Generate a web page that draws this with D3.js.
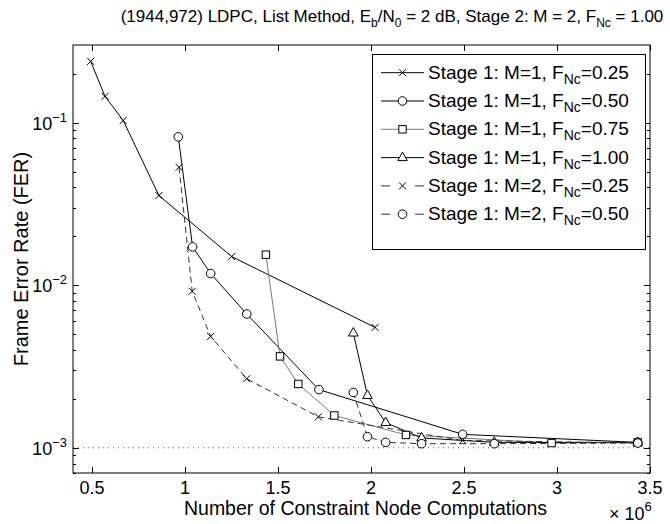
<!DOCTYPE html>
<html>
<head>
<meta charset="utf-8">
<script src="https://cdn.jsdelivr.net/npm/d3@7/dist/d3.min.js"></script>
<style>
  body { margin: 0; background: #fff; }
  text { font-family: "Liberation Sans", Arial, Helvetica, sans-serif; fill: #000; }
</style>
</head>
<body>
<svg id="chart" width="670" height="524"></svg>
<script>
// Constraint node computations are given in units of 10^6.
const xTicks = [0.5, 1, 1.5, 2, 2.5, 3, 3.5];
const yDecades = [1e-3, 1e-2, 1e-1];

// Stage 1: M=1, F_Nc=0.25
const m1f025X = [0.493, 0.570, 0.668, 0.860, 1.251, 2.022];
const m1f025Y = [0.238, 0.145, 0.103, 0.0356, 0.0150, 0.0055];
// Stage 1: M=1, F_Nc=0.50
const m1f050X = [0.964, 1.041, 1.138, 1.332, 1.720, 2.493, 3.434];
const m1f050Y = [0.0817, 0.0172, 0.0118, 0.00665, 0.00228, 0.00121, 0.00108];
// Stage 1: M=1, F_Nc=0.75
const m1f075X = [1.435, 1.511, 1.609, 1.803, 2.188, 2.971, 3.434];
const m1f075Y = [0.0154, 0.00365, 0.00247, 0.00158, 0.00120, 0.00107, 0.00108];
// Stage 1: M=1, F_Nc=1.00
const m1f100X = [1.905, 1.981, 2.079, 2.272, 2.663, 3.434];
const m1f100Y = [0.00508, 0.00210, 0.00143, 0.00115, 0.00108, 0.00108];
// Stage 1: M=2, F_Nc=0.25
const m2f025X = [0.968, 1.039, 1.138, 1.332, 1.717, 2.493, 3.434];
const m2f025Y = [0.0531, 0.00917, 0.00484, 0.00266, 0.00155, 0.00111, 0.00107];
// Stage 1: M=2, F_Nc=0.50
const m2f050X = [1.905, 1.981, 2.079, 2.272, 2.663, 3.434];
const m2f050Y = [0.00219, 0.00117, 0.00108, 0.00106, 0.00106, 0.00107];

const stageM = ["M=1", "M=1", "M=1", "M=1", "M=2", "M=2"];
const fncValues = ["0.25", "0.50", "0.75", "1.00", "0.25", "0.50"];
const markerKinds = ["x", "o", "s", "^", "x", "o"];
const lineDash = [null, null, null, null, "6,4", "6,4"];
const lineColor = ["#000", "#000", "#777", "#000", "#333", "#333"];

const seriesX = [m1f025X, m1f050X, m1f075X, m1f100X, m2f025X, m2f050X];
const seriesY = [m1f025Y, m1f050Y, m1f075Y, m1f100Y, m2f025Y, m2f050Y];
const referenceFER = 1e-3;

const svg = d3.select("#chart");
const W = 670, H = 524;
const plot = { left: 73, right: 650, top: 45, bottom: 473 };

svg.append("rect").attr("width", W).attr("height", H).attr("fill", "#fff");

const x = d3.scaleLinear().domain([0.398, 3.5]).range([plot.left, plot.right]);
const y = d3.scaleLog().domain([7e-4, 0.3]).range([plot.bottom, plot.top]);

const TICK_FONT = 18;
const LABEL_FONT = 19.5;

// Horizontal dotted reference at FER = 10^-3
svg.append("line")
  .attr("x1", plot.left).attr("x2", plot.right)
  .attr("y1", y(referenceFER)).attr("y2", y(referenceFER))
  .attr("stroke", "#555").attr("stroke-width", 1)
  .attr("stroke-dasharray", "1,4");

// Axis box
svg.append("rect")
  .attr("x", plot.left).attr("y", plot.top)
  .attr("width", plot.right - plot.left).attr("height", plot.bottom - plot.top)
  .attr("fill", "none").attr("stroke", "#000").attr("stroke-width", 1);

// Inward ticks on all four sides
const tickG = svg.append("g").attr("stroke", "#000").attr("stroke-width", 1);
xTicks.forEach(t => {
  const px = Math.round(x(t)) + 0.5;
  tickG.append("line").attr("x1", px).attr("x2", px).attr("y1", plot.bottom).attr("y2", plot.bottom - 6);
  tickG.append("line").attr("x1", px).attr("x2", px).attr("y1", plot.top).attr("y2", plot.top + 6);
});
const minorVals = [];
d3.range(-4, 0).forEach(e => {
  d3.range(1, 10).forEach(m => {
    const v = m * Math.pow(10, e);
    const [lo, hi] = y.domain();
    if (v >= lo && v <= hi) minorVals.push({ v, major: m === 1 });
  });
});
minorVals.forEach(d => {
  const py = Math.round(y(d.v)) + 0.5;
  const len = d.major ? 6 : 3;
  tickG.append("line").attr("x1", plot.left).attr("x2", plot.left + len).attr("y1", py).attr("y2", py);
  tickG.append("line").attr("x1", plot.right).attr("x2", plot.right - len).attr("y1", py).attr("y2", py);
});

// X tick labels
svg.append("g").selectAll("text").data(xTicks).join("text")
  .attr("x", d => x(d)).attr("y", 494)
  .attr("text-anchor", "middle").attr("font-size", TICK_FONT)
  .text(d => d3.format("")(d));

// Y tick labels as 10^n
yDecades.forEach(v => {
  const e = Math.round(Math.log10(v));
  const t = svg.append("text")
    .attr("x", 67).attr("y", y(v) + 7)
    .attr("text-anchor", "end").attr("font-size", TICK_FONT);
  t.append("tspan").text("10");
  t.append("tspan").attr("dy", -8).attr("font-size", 13).text("\u2212" + Math.abs(e));
});

// Axis labels
svg.append("text")
  .attr("x", (plot.left + plot.right) / 2 + 4).attr("y", 515)
  .attr("text-anchor", "middle").attr("font-size", LABEL_FONT)
  .text("Number of Constraint Node Computations");

const mult = svg.append("text").attr("x", 609).attr("y", 520).attr("font-size", TICK_FONT);
mult.append("tspan").text("\u00d7 10");
mult.append("tspan").attr("dy", -9).attr("font-size", 13).text("6");

svg.append("text")
  .attr("transform", `translate(28,${(plot.top + plot.bottom) / 2}) rotate(-90)`)
  .attr("text-anchor", "middle").attr("font-size", 20)
  .text("Frame Error Rate (FER)");

// Title with sub-scripts
const title = svg.append("text")
  .attr("x", 392).attr("y", 22)
  .attr("text-anchor", "middle").attr("font-size", 17);
title.append("tspan").text("(1944,972) LDPC, List Method, E");
title.append("tspan").attr("dy", 5).attr("font-size", 12).text("b");
title.append("tspan").attr("dy", -5).text("/N");
title.append("tspan").attr("dy", 5).attr("font-size", 12).text("0");
title.append("tspan").attr("dy", -5).text(" = 2 dB, Stage 2: M = 2, F");
title.append("tspan").attr("dy", 5).attr("font-size", 12).text("Nc");
title.append("tspan").attr("dy", -5).text(" = 1.00");

// Marker drawing
function drawMarker(g, kind, cx, cy, stroke) {
  const s = g.append("g").attr("transform", `translate(${cx},${cy})`)
    .attr("fill", "none").attr("stroke", stroke).attr("stroke-width", 1);
  if (kind === "x") {
    s.append("path").attr("d", "M-3.5,-3.5L3.5,3.5M-3.5,3.5L3.5,-3.5");
  } else if (kind === "o") {
    s.append("circle").attr("r", 4.3).attr("fill", "#fff");
  } else if (kind === "s") {
    s.append("rect").attr("x", -3.7).attr("y", -3.7).attr("width", 7.4).attr("height", 7.4).attr("fill", "#fff");
  } else if (kind === "^") {
    s.append("path").attr("d", "M0,-5.5L4.8,3L-4.8,3Z").attr("fill", "#fff");
  }
}

const line = d3.line().x(d => x(d[0])).y(d => y(d[1]));
const dataG = svg.append("g");
seriesX.forEach((xs, i) => {
  const pts = xs.map((v, j) => [v, seriesY[i][j]]);
  dataG.append("path")
    .attr("d", line(pts))
    .attr("fill", "none").attr("stroke", lineColor[i]).attr("stroke-width", 1)
    .attr("stroke-dasharray", lineDash[i]);
});
seriesX.forEach((xs, i) => {
  xs.forEach((v, j) => drawMarker(dataG, markerKinds[i], x(v), y(seriesY[i][j]), "#000"));
});

// Legend
const leg = { x: 372, y: 54, w: 273, h: 195, row: 28.3, first: 72.7 };
const lg = svg.append("g");
lg.append("rect").attr("x", leg.x + 0.5).attr("y", leg.y + 0.5)
  .attr("width", leg.w).attr("height", leg.h)
  .attr("fill", "#fff").attr("stroke", "#000").attr("stroke-width", 1);
stageM.forEach((m, i) => {
  const cy = leg.first + i * leg.row;
  if (lineDash[i]) {
    [[381, 390], [415, 424]].forEach(([a, b]) =>
      lg.append("line").attr("x1", a).attr("x2", b).attr("y1", cy).attr("y2", cy)
        .attr("stroke", lineColor[i]).attr("stroke-width", 1));
  } else {
    lg.append("line").attr("x1", 381).attr("x2", 424).attr("y1", cy).attr("y2", cy)
      .attr("stroke", lineColor[i]).attr("stroke-width", 1);
  }
  drawMarker(lg, markerKinds[i], 402.5, cy, "#000");
  const t = lg.append("text").attr("x", 428).attr("y", cy + 6).attr("font-size", 19);
  t.append("tspan").text(`Stage 1: ${m}, F`);
  t.append("tspan").attr("dy", 5).attr("font-size", 14).text("Nc");
  t.append("tspan").attr("dy", -5).text("=" + fncValues[i]);
});
</script>
</body>
</html>
